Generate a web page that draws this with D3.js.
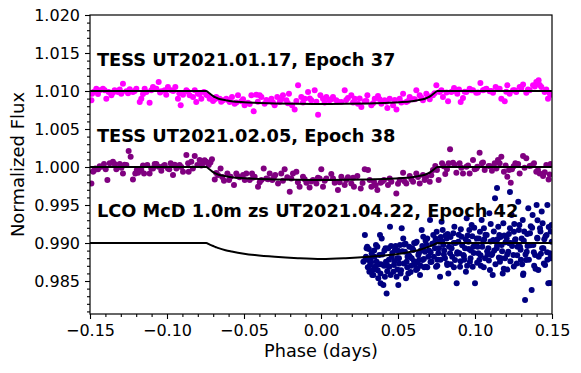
<!DOCTYPE html>
<html><head><meta charset="utf-8">
<script src="https://cdn.jsdelivr.net/npm/d3@7"></script>
<style>body{margin:0;background:#fff} svg{display:block} text{font-family:"DejaVu Sans",sans-serif}</style>
</head><body><svg id="c" width="581" height="373"></svg>
<script>
// TESS UT2021.01.17, Epoch 37  [phase (days), normalized flux + offset]
const tess37 = [[-0.1491,1.00877],[-0.1487,1.00965],[-0.1459,1.01031],[-0.1437,1.01009],[-0.1416,1.01031],[-0.1394,1.00899],[-0.1379,1.00987],[-0.1361,1.00943],[-0.1340,1.01009],[-0.1318,1.00987],[-0.1297,1.00965],[-0.1286,1.01097],[-0.1264,1.00996],[-0.1242,1.01022],[-0.1221,1.00987],[-0.1199,1.01031],[-0.1177,1.00855],[-0.1167,1.00899],[-0.1145,1.01031],[-0.1134,1.00987],[-0.1113,1.00846],[-0.1091,1.01053],[-0.1069,1.01031],[-0.1054,1.01119],[-0.1037,1.00996],[-0.1015,1.01009],[-0.0994,1.01053],[-0.0972,1.01009],[-0.0946,1.01053],[-0.0929,1.00899],[-0.0911,1.00811],[-0.0896,1.00952],[-0.0874,1.01009],[-0.0853,1.00943],[-0.0831,1.00921],[-0.0810,1.00855],[-0.0799,1.00965],[-0.0777,1.00899],[-0.0760,1.00987],[-0.0745,1.00952],[-0.0723,1.00899],[-0.0701,1.00868],[-0.0680,1.00921],[-0.0658,1.00899],[-0.0636,1.00877],[-0.0615,1.00899],[-0.0593,1.00855],[-0.0578,1.00921],[-0.0561,1.00833],[-0.0539,1.00943],[-0.0517,1.00864],[-0.0496,1.00811],[-0.0474,1.00846],[-0.0452,1.00943],[-0.0437,1.00732],[-0.0420,1.00952],[-0.0398,1.00943],[-0.0387,1.00921],[-0.0366,1.00833],[-0.0344,1.00864],[-0.0322,1.00899],[-0.0301,1.00811],[-0.0284,1.00921],[-0.0268,1.00855],[-0.0247,1.00943],[-0.0225,1.00877],[-0.0208,1.00965],[-0.0188,1.00811],[-0.0171,1.00758],[-0.0149,1.01075],[-0.0128,1.00921],[-0.0106,1.00899],[-0.0084,1.00987],[-0.0063,1.00877],[-0.0041,1.01009],[-0.0019,1.00688],[-0.0004,1.00943],
[0.0013,1.00899],[0.0035,1.00921],[0.0056,1.00877],[0.0078,1.00921],[0.0099,1.00877],[0.0132,1.00855],[0.0154,1.01009],[0.0175,1.00908],[0.0197,1.00943],[0.0219,1.00899],[0.0240,1.00833],[0.0262,1.00789],[0.0284,1.00864],[0.0301,1.00943],[0.0327,1.00811],[0.0349,1.00899],[0.0370,1.00934],[0.0392,1.00833],[0.0413,1.00877],[0.0431,1.00776],[0.0446,1.00899],[0.0468,1.00811],[0.0490,1.00758],[0.0511,1.00899],[0.0533,1.00965],[0.0554,1.00855],[0.0576,1.00921],[0.0598,1.00890],[0.0619,1.01009],[0.0641,1.00943],[0.0662,1.00877],[0.0684,1.00965],[0.0706,1.00890],[0.0727,1.00943],[0.0749,1.01075],[0.0771,1.00987],[0.0792,1.00921],[0.0825,1.00864],[0.0846,1.00987],[0.0864,1.01040],[0.0885,1.00965],[0.0907,1.00855],[0.0922,1.00908],[0.0944,1.00987],[0.0965,1.01031],[0.0987,1.01009],[0.1008,1.00978],[0.1035,1.01106],[0.1052,1.01009],[0.1074,1.01031],[0.1095,1.00996],[0.1117,1.00978],[0.1134,1.01053],[0.1149,1.01031],[0.1171,1.00899],[0.1193,1.00864],[0.1210,1.01075],[0.1225,1.00965],[0.1247,1.01009],[0.1268,1.00987],[0.1290,1.01053],[0.1312,1.01084],[0.1333,1.00978],[0.1355,1.01009],[0.1377,1.01075],[0.1398,1.01119],[0.1413,1.01141],[0.1431,1.01053],[0.1452,1.00987],[0.1474,1.00899],[0.1491,1.00952],
[-0.1475,1.0099],[-0.1448,1.0096],[-0.1405,1.0101],[-0.1350,1.0098],[-0.1307,1.0102],[-0.1253,1.0097],[-0.1210,1.0100],[-0.1156,1.0096],[-0.1102,1.0101],[-0.1045,1.0098],[-0.1005,1.0095],[-0.0960,1.0100],[-0.0920,1.0097],[-0.0865,1.0099],[-0.0820,1.0101],[-0.0788,1.0096],[-0.0735,1.0094],[-0.0690,1.0089],[-0.0648,1.0086],[-0.0604,1.0088],[-0.0550,1.0085],[-0.0506,1.0089],[-0.0463,1.0083],[-0.0410,1.0086],[-0.0355,1.0088],[-0.0312,1.0085],[-0.0258,1.0089],[-0.0215,1.0084],[-0.0160,1.0087],[-0.0117,1.0085],[-0.0073,1.0090],[-0.0030,1.0086],[0.0024,1.0085],[0.0067,1.0089],[0.0110,1.0086],[0.0164,1.0088],[0.0208,1.0085],[0.0251,1.0090],[0.0295,1.0087],[0.0338,1.0084],[0.0381,1.0089],[0.0424,1.0086],[0.0479,1.0088],[0.0522,1.0085],[0.0565,1.0087],[0.0609,1.0089],[0.0652,1.0091],[0.0695,1.0093],[0.0738,1.0097],[0.0782,1.0101],[0.0815,1.0098],[0.0857,1.0100],[0.0896,1.0102],[0.0933,1.0099],[0.0976,1.0101],[0.1020,1.0098],[0.1063,1.0102],[0.1106,1.0100],[0.1160,1.0103],[0.1203,1.0099],[0.1258,1.0101],[0.1301,1.0104],[0.1344,1.0102],[0.1388,1.0106],[0.1420,1.0108],[0.1463,1.0102],[0.1485,1.0097]];

// TESS UT2021.02.05, Epoch 38
const tess38 = [[-0.1491,0.99784],[-0.1481,0.99938],[-0.1465,0.99982],[-0.1448,0.99969],[-0.1426,1.00004],[-0.1409,1.00040],[-0.1387,0.99828],[-0.1372,1.00048],[-0.1351,1.00070],[-0.1329,0.99969],[-0.1307,1.00040],[-0.1286,0.99916],[-0.1264,1.00026],[-0.1249,1.00211],[-0.1236,1.00136],[-0.1221,0.99837],[-0.1206,0.99916],[-0.1188,0.99925],[-0.1167,0.99960],[-0.1149,0.99916],[-0.1128,1.00026],[-0.1113,0.99916],[-0.1091,0.99982],[-0.1069,1.00040],[-0.1054,1.00004],[-0.1037,0.99952],[-0.1015,1.00026],[-0.0994,0.99982],[-0.0976,1.00048],[-0.0961,0.99894],[-0.0939,0.99982],[-0.0918,1.00026],[-0.0896,0.99938],[-0.0874,1.00158],[-0.0859,0.99938],[-0.0842,1.00070],[-0.0820,1.00145],[-0.0803,1.00026],[-0.0788,1.00092],[-0.0766,1.00048],[-0.0745,1.00070],[-0.0729,1.00026],[-0.0708,1.00101],[-0.0690,0.99837],[-0.0669,0.99894],[-0.0652,0.99982],[-0.0630,0.99820],[-0.0608,0.99916],[-0.0587,0.99872],[-0.0565,0.99762],[-0.0550,0.99916],[-0.0528,0.99864],[-0.0506,0.99894],[-0.0485,0.99916],[-0.0463,0.99828],[-0.0448,0.99916],[-0.0431,0.99872],[-0.0409,0.99740],[-0.0387,0.99828],[-0.0372,0.99982],[-0.0355,0.99850],[-0.0333,0.99916],[-0.0316,0.99828],[-0.0297,0.99894],[-0.0279,0.99784],[-0.0258,0.99916],[-0.0236,0.99969],[-0.0219,0.99864],[-0.0203,0.99674],[-0.0182,0.99916],[-0.0160,0.99938],[-0.0139,0.99740],[-0.0117,0.99872],[-0.0095,0.99793],[-0.0074,0.99732],[-0.0052,0.99828],[-0.0030,0.99784],[-0.0009,0.99850],
[0.0002,0.99969],[0.0013,0.99740],[0.0035,0.99850],[0.0067,0.99908],[0.0089,0.99793],[0.0110,0.99696],[0.0132,0.99872],[0.0154,0.99762],[0.0175,0.99864],[0.0197,0.99784],[0.0214,0.99740],[0.0236,0.99881],[0.0258,0.99718],[0.0284,0.99969],[0.0305,0.99960],[0.0327,0.99740],[0.0344,0.99806],[0.0366,0.99696],[0.0387,0.99793],[0.0409,0.99828],[0.0435,0.99762],[0.0457,0.99806],[0.0489,0.99652],[0.0511,0.99828],[0.0533,0.99925],[0.0554,0.99784],[0.0576,0.99881],[0.0598,0.99806],[0.0619,0.99916],[0.0641,0.99784],[0.0662,0.99894],[0.0684,0.99872],[0.0706,0.99806],[0.0727,0.99960],[0.0742,1.00013],[0.0764,0.99828],[0.0786,1.00048],[0.0807,0.99908],[0.0829,1.00048],[0.0838,1.00233],[0.0857,1.00057],[0.0879,0.99925],[0.0900,1.00048],[0.0922,0.99916],[0.0944,1.00004],[0.0965,0.99916],[0.0987,1.00092],[0.0998,0.99969],[0.1015,1.00004],[0.1030,1.00189],[0.1045,1.00048],[0.1063,0.99960],[0.1089,1.00013],[0.1110,0.99952],[0.1128,1.00048],[0.1149,1.00092],[0.1171,1.00136],[0.1188,0.99938],[0.1210,0.99872],[0.1232,0.99793],[0.1240,0.99969],[0.1262,1.00048],[0.1290,0.99916],[0.1312,1.00145],[0.1333,1.00114],[0.1355,1.00013],[0.1383,1.00048],[0.1398,0.99938],[0.1420,0.99916],[0.1442,0.99881],[0.1463,1.00026],[0.1478,0.99837],[0.1491,1.00040],
[-0.1475,0.9995],[-0.1437,1.0001],[-0.1398,0.9997],[-0.1340,1.0004],[-0.1296,0.9999],[-0.1275,1.0003],[-0.1196,0.9996],[-0.1156,1.0002],[-0.1102,0.9998],[-0.1080,1.0004],[-0.1026,1.0001],[-0.0985,0.9997],[-0.0950,1.0003],[-0.0907,1.0000],[-0.0863,1.0005],[-0.0832,0.9998],[-0.0777,1.0002],[-0.0756,1.0009],[-0.0718,1.0006],[-0.0680,0.9992],[-0.0641,0.9987],[-0.0597,0.9983],[-0.0540,0.9988],[-0.0495,0.9983],[-0.0441,0.9986],[-0.0398,0.9980],[-0.0344,0.9984],[-0.0305,0.9987],[-0.0247,0.9982],[-0.0193,0.9985],[-0.0150,0.9980],[-0.0106,0.9984],[-0.0063,0.9981],[-0.0020,0.9986],[0.0024,0.9982],[0.0078,0.9985],[0.0121,0.9980],[0.0164,0.9983],[0.0208,0.9986],[0.0270,0.9979],[0.0316,0.9983],[0.0355,0.9976],[0.0398,0.9981],[0.0446,0.9985],[0.0500,0.9978],[0.0543,0.9981],[0.0587,0.9984],[0.0630,0.9987],[0.0673,0.9983],[0.0716,0.9989],[0.0753,0.9996],[0.0797,1.0001],[0.0818,0.9997],[0.0868,1.0003],[0.0911,0.9999],[0.0955,1.0002],[0.1009,0.9998],[0.1052,1.0006],[0.1100,1.0001],[0.1139,0.9998],[0.1160,1.0005],[0.1199,1.0002],[0.1221,0.9996],[0.1251,1.0001],[0.1280,1.0004],[0.1322,0.9999],[0.1366,1.0002],[0.1409,0.9996],[0.1453,0.9993],[0.1485,0.9990]];

// LCO McD 1.0m zs UT2021.04.22, Epoch 42
const lco42 = [[0.0285,0.99105],[0.0296,0.98930],[0.0307,0.98776],[0.0318,0.98710],[0.0292,0.98820],[0.0275,0.98754],[0.0314,0.98622],[0.0329,0.98864],[0.0340,0.98579],[0.0350,0.98688],[0.0361,0.98754],[0.0372,0.98535],[0.0383,0.99105],[0.0357,0.98974],[0.0379,0.98842],[0.0387,0.98469],[0.0335,0.98644],[0.0394,0.99061],[0.0405,0.98447],[0.0415,0.98557],[0.0426,0.98337],[0.0437,0.98930],[0.0444,0.98688],[0.0448,0.99215],[0.0422,0.98754],[0.0459,0.98820],[0.0470,0.98622],[0.0480,0.98908],[0.0491,0.98557],[0.0502,0.98447],[0.0508,0.98732],[0.0513,0.98974],[0.0495,0.98798],[0.0524,0.99193],[0.0534,0.99061],[0.0545,0.98886],[0.0556,0.98754],[0.0567,0.98600],[0.0573,0.98952],[0.0552,0.98535],[0.0578,0.98820],[0.0589,0.98798],[0.0599,0.98908],[0.0610,0.98710],[0.0621,0.99018],[0.0632,0.98842],[0.0643,0.98579],[0.0617,0.98644],[0.0638,0.98776],[0.0654,0.99171],[0.0664,0.99083],[0.0675,0.98886],[0.0686,0.98974],[0.0697,0.98820],[0.0708,0.99303],[0.0682,0.98688],[0.0660,0.98776],[0.0718,0.98754],[0.0729,0.99105],[0.0740,0.98930],[0.0751,0.99149],[0.0762,0.98864],[0.0773,0.98557],[0.0747,0.98688],[0.0768,0.99018],[0.0783,0.99281],[0.0794,0.98974],[0.0805,0.98798],[0.0816,0.99061],[0.0827,0.98600],[0.0838,0.98864],[0.0790,0.99171],[0.0820,0.98710],[0.0848,0.98930],[0.0859,0.99127],[0.0870,0.98776],[0.0881,0.98469],[0.0892,0.99018],[0.0903,0.98688],[0.0866,0.99215],[0.0898,0.98864],[0.0913,0.99083],[0.0924,0.98842],[0.0935,0.98930],[0.0946,0.99325],[0.0957,0.99018],[0.0967,0.98754],[0.0941,0.98622],[0.0963,0.99171],[0.0978,0.99237],[0.0989,0.98952],[0.1000,0.98469],[0.1011,0.99061],[0.1022,0.98864],[0.1032,0.99149],[0.0985,0.98688],[0.1028,0.98776],[0.1043,0.99303],[0.1054,0.99018],[0.1065,0.98798],[0.1076,0.99105],[0.1087,0.98930],[0.1097,0.98644],[0.1058,0.99193],[0.1093,0.99391],[0.1108,0.98842],[0.1119,0.99040],[0.1130,0.99588],[0.1141,0.98930],[0.1151,0.99215],[0.1162,0.98754],[0.1115,0.98579],[0.1158,0.99105],[0.1173,0.98974],[0.1184,0.99259],[0.1195,0.98798],[0.1206,0.99061],[0.1216,0.98886],[0.1227,0.99193],[0.1180,0.98600],[0.1223,0.98996],[0.1238,0.99369],[0.1249,0.98842],[0.1260,0.99040],[0.1271,0.98732],[0.1281,0.99544],[0.1292,0.98952],[0.1253,0.99149],[0.1288,0.99237],[0.1303,0.99061],[0.1314,0.98600],[0.1325,0.98249],[0.1336,0.98886],[0.1346,0.99457],[0.1357,0.99127],[0.1310,0.99303],[0.1331,0.98776],[0.1368,0.98381],[0.1379,0.98974],[0.1390,0.98842],[0.1400,0.99500],[0.1411,0.98644],[0.1422,0.99193],[0.1374,0.99369],[0.1405,0.99061],[0.1433,0.99413],[0.1444,0.98930],[0.1455,0.98710],[0.1465,0.99105],[0.1476,0.98469],[0.1487,0.98864],[0.1498,0.99018],[0.1439,0.99259],[0.1470,0.99500],[0.1497,0.99237],
[0.1143,0.99724],[0.1227,0.99671],[0.1487,0.98474],[0.1312,0.98579],
[0.0300,0.98950],[0.0322,0.98800],[0.0345,0.98900],[0.0368,0.98640],[0.0390,0.98720],[0.0412,0.98900],[0.0432,0.98700],[0.0455,0.98960],[0.0476,0.98760],[0.0498,0.98900],[0.0520,0.98640],[0.0540,0.98980],[0.0562,0.98820],[0.0585,0.98700],[0.0605,0.99000],[0.0625,0.98750],[0.0648,0.98900],[0.0670,0.98680],[0.0690,0.99060],[0.0712,0.98880],[0.0735,0.99000],[0.0756,0.98780],[0.0778,0.99080],[0.0800,0.98900],[0.0822,0.99120],[0.0843,0.98720],[0.0862,0.99000],[0.0885,0.98880],[0.0908,0.99180],[0.0930,0.98780],[0.0952,0.99100],[0.0973,0.98900],[0.0995,0.99200],[0.1017,0.98950],[0.1038,0.98700],[0.1060,0.99050],[0.1082,0.98850],[0.1102,0.99250],[0.1125,0.98900],[0.1146,0.99050],[0.1168,0.98800],[0.1190,0.99100],[0.1210,0.98650],[0.1232,0.99000],[0.1255,0.99250],[0.1276,0.98950],[0.1298,0.98780],[0.1320,0.99150],[0.1341,0.98960],[0.1362,0.99220],[0.1384,0.98700],[0.1406,0.99300],[0.1428,0.98860],[0.1450,0.99050],[0.1470,0.98780],[0.1492,0.99150],
[0.0290,0.9880],[0.0304,0.9868],[0.0311,0.9892],[0.0326,0.9875],[0.0333,0.9858],[0.0348,0.9882],[0.0355,0.9866],[0.0366,0.9895],[0.0376,0.9872],[0.0386,0.9860],[0.0398,0.9885],[0.0409,0.9870],[0.0419,0.9893],[0.0430,0.9863],[0.0441,0.9878],[0.0452,0.9858],[0.0463,0.9887],[0.0474,0.9871],[0.0485,0.9896],[0.0496,0.9865],[0.0506,0.9880],[0.0517,0.9860],[0.0528,0.9889],[0.0538,0.9873],[0.0549,0.9899],[0.0560,0.9868],[0.0571,0.9884],[0.0582,0.9862],[0.0593,0.9893],[0.0604,0.9876],[0.0614,0.9900],[0.0626,0.9866],[0.0636,0.9887],[0.0647,0.9870],[0.0658,0.9896],[0.0668,0.9879],[0.0679,0.9903],[0.0690,0.9868],[0.0701,0.9890],[0.0711,0.9875],[0.0722,0.9899],[0.0733,0.9882],[0.0744,0.9906],[0.0755,0.9870],[0.0766,0.9893],[0.0776,0.9878],[0.0787,0.9902],[0.0798,0.9885],[0.0809,0.9910],[0.0819,0.9873],[0.0831,0.9895],[0.0841,0.9908],[0.0852,0.9882],[0.0863,0.9868],[0.0874,0.9900],[0.0884,0.9886],[0.0895,0.9911],[0.0906,0.9876],[0.0917,0.9897],[0.0928,0.9883],[0.0939,0.9905],[0.0949,0.9870],[0.0960,0.9892],[0.0971,0.9880],[0.0982,0.9909],[0.0992,0.9887],[0.1003,0.9898],[0.1014,0.9874],[0.1025,0.9906],[0.1036,0.9884],[0.1047,0.9895],[0.1057,0.9868],[0.1068,0.9911],[0.1079,0.9889],[0.1090,0.9877],[0.1101,0.9902],[0.1112,0.9886],[0.1122,0.9915],[0.1133,0.9872],[0.1144,0.9897],[0.1155,0.9881],[0.1166,0.9908],[0.1176,0.9889],[0.1187,0.9866],[0.1198,0.9901],[0.1209,0.9885],[0.1220,0.9912],[0.1230,0.9876],[0.1241,0.9896],[0.1252,0.9869],[0.1263,0.9905],[0.1274,0.9884],[0.1285,0.9917],[0.1296,0.9891],[0.1306,0.9872],[0.1317,0.9903],[0.1328,0.9885],[0.1339,0.9912],[0.1350,0.9878],[0.1360,0.9897],[0.1371,0.9920],[0.1382,0.9888],[0.1393,0.9866],[0.1404,0.9907],[0.1414,0.9882],[0.1425,0.9915],[0.1436,0.9893],[0.1447,0.9873],[0.1458,0.9909],[0.1468,0.9888],[0.1479,0.9921],[0.1490,0.9880]];

// transit models (depth below each series' baseline)
const modelPhase = [-0.15,-0.0745,-0.0725,-0.0705,-0.0685,-0.0665,-0.062,-0.058,-0.050,-0.043,-0.030,-0.015,0.0005,0.016,0.031,0.044,0.051,0.059,0.063,0.0675,0.0695,0.0715,0.0735,0.0755,0.15];
const tessDip = [0,0,0.0003,0.0006,0.00085,0.00102,0.0012,0.00135,0.00148,0.00155,0.00163,0.00168,0.0017,0.00168,0.00163,0.00155,0.00148,0.00135,0.0012,0.00102,0.00085,0.0006,0.0003,0,0];
const lcoDip = [0,0,0.00018,0.00036,0.00052,0.00068,0.00095,0.00112,0.0014,0.00158,0.00182,0.002,0.0021,0.002,0.00182,0.00158,0.0014,0.00112,0.00095,0.00068,0.00052,0.00036,0.00018,0,0];

const offsets = [1.010, 1.000, 0.990];
const seriesColors = ["#ff00ff", "#800080", "#000080"];
const labels = ["TESS UT2021.01.17, Epoch 37", "TESS UT2021.02.05, Epoch 38", "LCO McD 1.0m zs UT2021.04.22, Epoch 42"];
const labelPhase = -0.1455;
const labelFlux = [1.0133, 1.0033, 0.9934];
const xTicks = [-0.15, -0.10, -0.05, 0.00, 0.05, 0.10, 0.15];
const yTicks = [0.985, 0.990, 0.995, 1.000, 1.005, 1.010, 1.015, 1.020];
const xMinor = [-0.14,-0.13,-0.12,-0.11,-0.09,-0.08,-0.07,-0.06,-0.04,-0.03,-0.02,-0.01,0.01,0.02,0.03,0.04,0.06,0.07,0.08,0.09,0.11,0.12,0.13,0.14];
const yMinor = [0.981,0.982,0.983,0.984,0.986,0.987,0.988,0.989,0.991,0.992,0.993,0.994,0.996,0.997,0.998,0.999,1.001,1.002,1.003,1.004,1.006,1.007,1.008,1.009,1.011,1.012,1.013,1.014,1.016,1.017,1.018,1.019];

const L = 90, R = 552, T = 15, B = 314;
const svg = d3.select("#c");
const x = d3.scaleLinear().domain([-0.15, 0.15]).range([L, R]);
const y = d3.scaleLinear().domain([0.98066, 1.020]).range([B, T]);

svg.append("defs").append("clipPath").attr("id", "clip")
  .append("rect").attr("x", L).attr("y", T).attr("width", R - L).attr("height", B - T);

const plot = svg.append("g").attr("clip-path", "url(#clip)");
[tess37, tess38, lco42].forEach((data, i) => {
  plot.append("g").selectAll("circle").data(data).join("circle")
    .attr("cx", d => x(d[0])).attr("cy", d => y(d[1])).attr("r", 3)
    .attr("fill", seriesColors[i]);
});

const line = d3.line().x(d => x(d[0])).y(d => y(d[1])).curve(d3.curveMonotoneX);
[tessDip, tessDip, lcoDip].forEach((dip, i) => {
  const pts = modelPhase.map((p, k) => [p, offsets[i] - dip[k]]);
  plot.append("path").datum(pts).attr("d", line).attr("fill", "none")
    .attr("stroke", "#000").attr("stroke-width", 2);
});

labels.forEach((t, i) => {
  svg.append("text").attr("x", x(labelPhase)).attr("y", y(labelFlux[i]))
    .attr("font-size", 17.8).attr("font-weight", "bold").attr("fill", "#000").text(t);
});

// axes
const fmt = d3.format(".2f"), fmt3 = d3.format(".3f");
svg.append("g").attr("transform", `translate(0,${B})`)
  .call(d3.axisBottom(x).tickValues(xTicks).tickFormat(fmt).tickSize(5).tickPadding(5.5));
svg.append("g").attr("transform", `translate(${L},0)`)
  .call(d3.axisLeft(y).tickValues(yTicks).tickFormat(fmt3).tickSize(5).tickPadding(5));
svg.append("g").attr("transform", `translate(0,${B})`)
  .call(d3.axisBottom(x).tickValues(xMinor).tickFormat("").tickSize(3));
svg.append("g").attr("transform", `translate(${L},0)`)
  .call(d3.axisLeft(y).tickValues(yMinor).tickFormat("").tickSize(3));
svg.selectAll(".domain").remove();
svg.selectAll(".tick line").attr("stroke", "#000").attr("stroke-width", 1.1);
svg.selectAll(".tick text").attr("font-size", 16).attr("fill", "#000").style("font-family", "DejaVu Sans");

svg.append("rect").attr("x", L).attr("y", T).attr("width", R - L).attr("height", B - T)
  .attr("fill", "none").attr("stroke", "#000").attr("stroke-width", 1.2);

svg.append("text").attr("x", (L + R) / 2).attr("y", 357).attr("text-anchor", "middle")
  .attr("font-size", 17.7).text("Phase (days)");
svg.append("text").attr("transform", `translate(24,${(T + B) / 2}) rotate(-90)`)
  .attr("text-anchor", "middle").attr("font-size", 18).text("Normalized Flux");
</script></body></html>
